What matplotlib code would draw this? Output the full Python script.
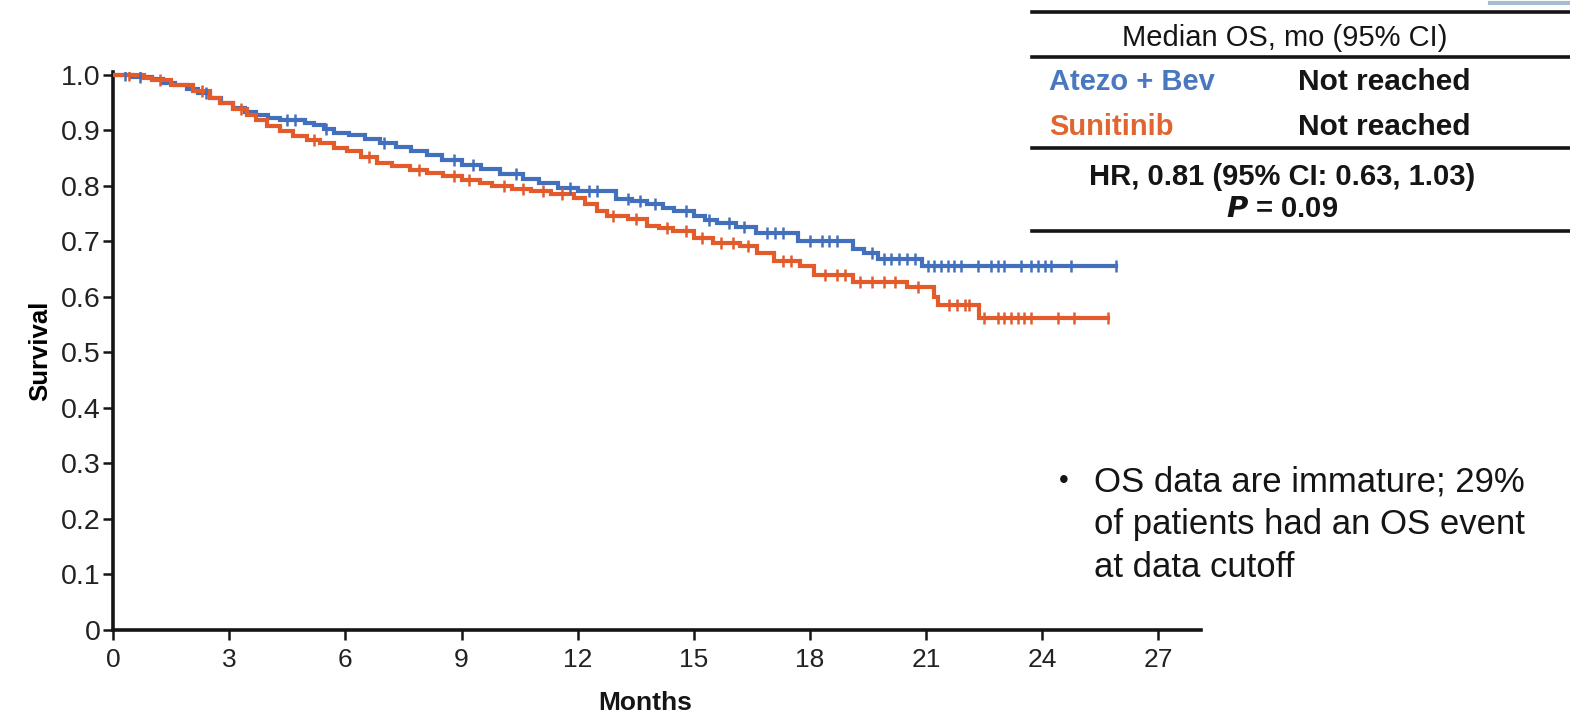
import numpy as np
import matplotlib
matplotlib.use("Agg")
import matplotlib.pyplot as plt
from matplotlib.lines import Line2D

plt.rcParams['font.family'] = ['Liberation Sans', 'DejaVu Sans']

# ---- data ----
atezo_t = [0, 0.5, 1.0, 1.3, 1.6, 1.9, 2.2, 2.5, 2.8, 3.1, 3.4, 3.7, 4.0, 4.3, 4.95, 5.2,
           5.45, 5.7, 6.1, 6.5, 6.9, 7.3, 7.7, 8.1, 8.5, 9.0, 9.5, 10.0, 10.6, 11.0, 11.5,
           12.0, 13.0, 13.4, 13.8, 14.2, 14.5, 15.0, 15.3, 15.6, 16.1, 16.6, 17.7, 19.1,
           19.4, 19.75, 20.9]
atezo_s = [1.0, 0.996, 0.992, 0.986, 0.981, 0.975, 0.967, 0.959, 0.95, 0.941, 0.933, 0.927,
           0.922, 0.919, 0.914, 0.909, 0.903, 0.896, 0.892, 0.885, 0.877, 0.870, 0.862,
           0.855, 0.846, 0.838, 0.830, 0.822, 0.813, 0.806, 0.797, 0.790, 0.777, 0.773,
           0.768, 0.760, 0.755, 0.745, 0.739, 0.733, 0.726, 0.715, 0.701, 0.686, 0.679,
           0.668, 0.655]
atezo_end = 25.9
atezo_cens = [0.3, 0.7, 2.4, 4.5, 4.7, 5.5, 7.0, 8.8, 9.3, 10.4, 11.8, 12.3, 12.5, 13.3,
              13.6, 14.0, 14.8, 15.4, 15.9, 16.3, 16.9, 17.1, 17.3, 18.0, 18.3, 18.5, 18.7,
              19.6, 19.9, 20.1, 20.3, 20.5, 20.7, 21.04, 21.2, 21.39, 21.56, 21.73, 21.9,
              22.33, 22.68, 22.85, 23.02, 23.45, 23.71, 23.89, 24.06, 24.23, 24.75, 25.9]

suni_t = [0, 0.8, 1.0, 1.5, 2.07, 2.5, 2.77, 3.1, 3.46, 3.7, 3.98, 4.3, 4.65, 5.0, 5.35,
          5.7, 6.05, 6.4, 6.82, 7.2, 7.68, 8.1, 8.53, 9.0, 9.49, 9.8, 10.3, 10.8, 11.3,
          11.9, 12.2, 12.5, 12.76, 13.3, 13.8, 14.1, 14.47, 15.0, 15.5, 16.2, 16.64, 17.06,
          17.75, 18.1, 19.1, 20.5, 21.2, 21.3, 22.37]
suni_s = [1.0, 0.995, 0.991, 0.982, 0.970, 0.958, 0.949, 0.938, 0.928, 0.918, 0.907, 0.898,
          0.889, 0.883, 0.877, 0.869, 0.862, 0.852, 0.841, 0.835, 0.829, 0.823, 0.817,
          0.811, 0.805, 0.800, 0.795, 0.790, 0.786, 0.778, 0.768, 0.755, 0.745, 0.740,
          0.728, 0.724, 0.718, 0.706, 0.697, 0.692, 0.679, 0.664, 0.655, 0.640, 0.627,
          0.617, 0.600, 0.586, 0.562]
suni_end = 25.7
suni_cens = [0.4, 1.2, 2.3, 3.3, 5.2, 6.6, 7.9, 8.8, 9.2, 10.1, 10.6, 11.1, 11.6, 12.9,
             13.5, 14.3, 14.8, 15.2, 15.7, 16.0, 16.4, 17.3, 17.5, 18.4, 18.7, 18.9, 19.3,
             19.6, 19.9, 20.2, 20.8, 21.6, 21.8, 22.0, 22.1, 22.5, 22.85, 23.02, 23.2,
             23.37, 23.54, 23.71, 24.4, 24.83, 25.7]

x_ticks = [0, 3, 6, 9, 12, 15, 18, 21, 24, 27]
y_ticks = [0, 0.1, 0.2, 0.3, 0.4, 0.5, 0.6, 0.7, 0.8, 0.9, 1.0]
y_ticklabels = ['0', '0.1', '0.2', '0.3', '0.4', '0.5', '0.6', '0.7', '0.8', '0.9', '1.0']

note_lines = ['OS data are immature; 29%', 'of patients had an OS event', 'at data cutoff']

BLUE = '#4270BC'
ORANGE = '#E35A2B'
INK = '#151515'

fig = plt.figure(figsize=(15.7, 7.15), dpi=100)
ax = fig.add_axes([0.072, 0.119, 0.693, 0.781])


def km(ax, t, s, end, cens, color):
    tt = list(t) + [end]
    ss = list(s) + [s[-1]]
    ax.step(tt, ss, where='post', color=color, lw=3.0, solid_joinstyle='miter', zorder=3)
    idx = np.searchsorted(np.array(t), np.array(cens), side='right') - 1
    cy = np.array(s)[idx]
    ax.plot(cens, cy, ls='none', marker='|', ms=8, mew=1.8, color=color, zorder=4)


km(ax, atezo_t, atezo_s, atezo_end, atezo_cens, BLUE)
km(ax, suni_t, suni_s, suni_end, suni_cens, ORANGE)

ax.set_xlim(0, 28.1)
ax.set_ylim(0, 1.006)
for sp in ['top', 'right']:
    ax.spines[sp].set_visible(False)
for sp in ['left', 'bottom']:
    ax.spines[sp].set_linewidth(2.6)
    ax.spines[sp].set_color(INK)
ax.set_xticks(x_ticks)
ax.set_xticklabels([str(v) for v in x_ticks], fontsize=19)
ax.set_yticks(y_ticks)
ax.set_yticklabels(y_ticklabels, fontsize=20.5)
ax.tick_params(axis='both', direction='out', length=7, width=1.8, color=INK,
               labelcolor='#222222')
ax.tick_params(axis='y', pad=2)
ax.tick_params(axis='x', pad=6)
ax.set_ylabel('Survival', fontsize=18.5, fontweight='bold', labelpad=16)
ax.yaxis.set_label_coords(-0.056, 0.5)


def ftext(x, y, s, **kw):
    return fig.text(x / 1570, 1 - y / 715, s, **kw)


ftext(645, 703, 'Months', fontsize=19, fontweight='bold', ha='center', va='center',
      color=INK)

# ---- table at top right ----
def hline(y, x0=1032):
    fig.add_artist(Line2D([x0 / 1570, 1.0], [1 - y / 715, 1 - y / 715],
                          color=INK, lw=2.6, transform=fig.transFigure))

for yy in [12, 57, 148, 231]:
    hline(yy)

ftext(1285, 38, 'Median OS, mo (95% CI)', fontsize=21, ha='center', va='center',
      color=INK)
ftext(1049, 82, 'Atezo + Bev', fontsize=21, ha='left', va='center',
      fontweight='bold', color='#4A78C0')
ftext(1049, 127, 'Sunitinib', fontsize=21, ha='left', va='center',
      fontweight='bold', color='#E0652F')
ftext(1384, 82, 'Not reached', fontsize=21.5, ha='center', va='center',
      fontweight='bold', color=INK)
ftext(1384, 127, 'Not reached', fontsize=21.5, ha='center', va='center',
      fontweight='bold', color=INK)
ftext(1282, 177, 'HR, 0.81 (95% CI: 0.63, 1.03)', fontsize=21, ha='center',
      va='center', fontweight='bold', color=INK)
ftext(1282, 209, r'$\bfit{P}$ = 0.09', fontsize=21, ha='center', va='center',
      fontweight='bold', color=INK)

# faint fragment box edge at top right
fig.add_artist(Line2D([1490 / 1570, 1.0], [1 - 3 / 715, 1 - 3 / 715],
                      color='#A9BBD0', lw=3, transform=fig.transFigure))

# ---- bullet note ----
ftext(1064, 481, '\u2022', fontsize=20, ha='center', va='center', color=INK)
for i, line in enumerate(note_lines):
    ftext(1094, 491 + 43 * i, line, fontsize=25, ha='left', va='baseline', color=INK)

fig.savefig('out.png', dpi=100)
